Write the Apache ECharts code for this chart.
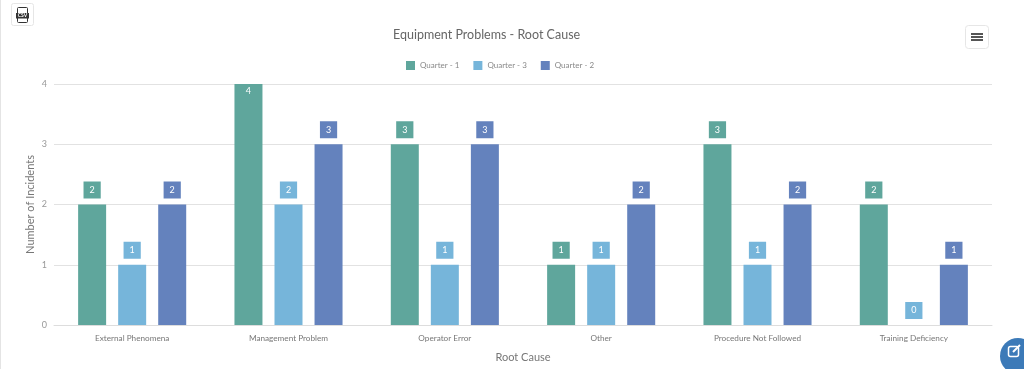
<!DOCTYPE html>
<html>
<head>
<meta charset="utf-8">
<style>
  html, body { margin: 0; padding: 0; background: #fff; }
  #chart { width: 1024px; height: 369px; }
</style>
<script src="https://cdn.jsdelivr.net/npm/echarts@6/dist/echarts.min.js"></script>
</head>
<body>
<div id="chart"></div>
<script>
var categories = ['External Phenomena', 'Management Problem', 'Operator Error', 'Other', 'Procedure Not Followed', 'Training Deficiency'];
var quarter1 = [2, 4, 3, 1, 3, 2];
var quarter3 = [1, 2, 1, 1, 1, 0];
var quarter2 = [2, 3, 3, 2, 2, 1];
var yTicks = [0, 1, 2, 3, 4];

var fontName = 'Lato, sans-serif';

function makeSeries(name, values, color) {
  return {
    name: name,
    type: 'bar',
    barWidth: 28,
    barGap: '43%',
    itemStyle: { color: color },
    data: values.map(function (v) {
      // top of the axis: label sits inside the bar, no box
      if (v === yTicks[yTicks.length - 1]) {
        return {
          value: v,
          label: { position: 'insideTop', distance: 3, backgroundColor: 'transparent', padding: 0 }
        };
      }
      return v;
    }),
    label: {
      show: true,
      position: 'top',
      distance: 6,
      color: '#fff',
      fontFamily: fontName,
      fontSize: 9,
      backgroundColor: color,
      padding: [4, 6]
    }
  };
}

var chart = echarts.init(document.getElementById('chart'));
chart.setOption({
  animation: false,
  color: ['#5fa69c', '#76b5da', '#6482bd'],
  title: {
    text: 'Equipment Problems - Root Cause',
    left: 393,
    top: 28,
    padding: 0,
    textStyle: { color: '#666', fontFamily: fontName, fontSize: 12.5, fontWeight: 'normal' }
  },
  legend: {
    top: 56,
    left: 401,
    itemWidth: 9,
    itemHeight: 9,
    itemGap: 14,
    icon: 'rect',
    textStyle: { color: '#888', fontFamily: fontName, fontSize: 8 },
    data: ['Quarter - 1', 'Quarter - 3', 'Quarter - 2']
  },
  grid: { left: 54, right: 32, top: 84, bottom: 44 },
  xAxis: {
    type: 'category',
    data: categories,
    name: 'Root Cause',
    nameLocation: 'middle',
    nameGap: 27,
    nameMoveOverlap: false,
    nameTextStyle: { color: '#777', fontFamily: fontName, fontSize: 11, lineHeight: 11 },
    axisTick: { show: false },
    axisLine: { lineStyle: { color: '#ddd' } },
    axisLabel: { color: '#777', fontFamily: fontName, fontSize: 8.2, margin: 9, interval: 0 }
  },
  yAxis: {
    type: 'value',
    min: 0,
    max: 4,
    interval: 1,
    name: 'Number of Incidents',
    nameLocation: 'middle',
    nameGap: 18,
    nameMoveOverlap: false,
    nameTextStyle: { color: '#777', fontFamily: fontName, fontSize: 11, lineHeight: 11 },
    axisLine: { show: false },
    axisTick: { show: false },
    splitLine: { lineStyle: { color: '#e2e2e2' } },
    axisLabel: { color: '#999', fontFamily: fontName, fontSize: 9, margin: 7 }
  },
  series: [
    makeSeries('Quarter - 1', quarter1, '#5fa69c'),
    makeSeries('Quarter - 3', quarter3, '#76b5da'),
    makeSeries('Quarter - 2', quarter2, '#6482bd')
  ],
  graphic: [
    // page edge
    { type: 'rect', shape: { x: 0, y: 0, width: 1, height: 369 }, style: { fill: '#e4e4e4' } },
    // csv button
    { type: 'rect', shape: { x: 11.5, y: 3.5, width: 22, height: 22, r: 2 }, style: { fill: '#fff', stroke: '#e6e6e6' } },
    { type: 'rect', shape: { x: 17.5, y: 7.5, width: 10, height: 15, r: 1 }, style: { fill: '#fff', stroke: '#333' } },
    { type: 'rect', shape: { x: 16, y: 13, width: 13, height: 5.5 }, style: { fill: '#333' } },
    { type: 'text', style: { x: 22.5, y: 15.8, text: 'CSV', fill: '#fff', font: 'bold 5px ' + fontName, align: 'center', verticalAlign: 'middle' } },
    // menu button
    { type: 'rect', shape: { x: 965.5, y: 25.5, width: 23, height: 23, r: 3 }, style: { fill: '#fff', stroke: '#e6e6e6' } },
    { type: 'rect', shape: { x: 971, y: 33, width: 12, height: 2 }, style: { fill: '#555' } },
    { type: 'rect', shape: { x: 971, y: 36, width: 12, height: 2 }, style: { fill: '#555' } },
    { type: 'rect', shape: { x: 971, y: 39, width: 12, height: 2 }, style: { fill: '#555' } },
    // edit button
    { type: 'circle', shape: { cx: 1018, cy: 356, r: 18 }, style: { fill: '#3c7ab8' } },
    { type: 'rect', shape: { x: 1008.5, y: 346.5, width: 10, height: 10, r: 2 }, style: { fill: 'none', stroke: '#fff', lineWidth: 1.5 } },
    { type: 'line', shape: { x1: 1013, y1: 352, x2: 1020, y2: 345 }, style: { stroke: '#fff', lineWidth: 2 } }
  ]
});
</script>
</body>
</html>
